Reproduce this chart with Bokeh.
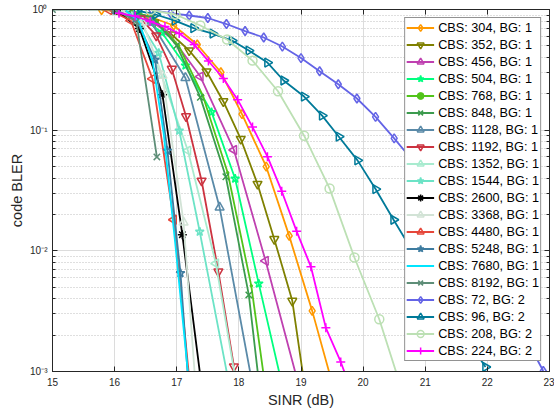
from bokeh.plotting import figure
from bokeh.models import Range1d, LinearAxis, LogAxis, FixedTicker, CustomJSTickFormatter
from bokeh.embed import file_html
from bokeh.resources import INLINE

# ---------------- data (SINR in dB, code BLER) ----------------
x_304 = [15.79, 16.18, 16.56, 16.95, 17.33, 17.71, 18.05, 18.44, 18.81, 19.18, 19.56]
y_304 = [0.99, 0.963, 0.875, 0.737, 0.513, 0.302, 0.136, 0.0498, 0.0133, 0.00318, 0.000626]

x_352 = [16.07, 16.36, 16.64, 16.92, 17.20, 17.48, 17.75, 18.03, 18.30, 18.57, 18.86, 19.14]
y_352 = [0.98, 0.909, 0.780, 0.620, 0.457, 0.306, 0.173, 0.0845, 0.0358, 0.0125, 0.00385, 0.000388]

x_456 = [16.34, 16.86, 17.38, 17.92, 18.43, 18.95]
y_456 = [0.963, 0.644, 0.278, 0.0685, 0.00826, 0.000818]

x_504 = [15.99, 16.37, 16.76, 17.14, 17.56, 17.94, 18.32, 18.70]
y_504 = [0.98, 0.909, 0.644, 0.343, 0.141, 0.0396, 0.00535, 0.000758]

x_768 = [16.26, 16.64, 17.03, 17.42, 17.82, 18.20, 18.59]
y_768 = [0.98, 0.842, 0.503, 0.193, 0.0444, 0.00513, 0.000181]

x_848 = [16.23, 16.61, 17.00, 17.38, 17.79, 18.16, 18.54]
y_848 = [0.972, 0.858, 0.503, 0.187, 0.0411, 0.00431, 0.0000875]

x_1128 = [16.03, 16.59, 17.14, 17.69, 18.25]
y_1128 = [0.98, 0.780, 0.271, 0.0229, 0.000638]

x_1192 = [16.16, 16.42, 16.67, 16.92, 17.15, 17.40, 17.67, 17.92]
y_1192 = [0.963, 0.842, 0.608, 0.322, 0.130, 0.0381, 0.00673, 0.00110]

x_1352 = [16.27, 16.75, 17.18, 17.63, 18.06]
y_1352 = [0.963, 0.289, 0.0676, 0.00785, 0.000388]

x_1544 = [16.10, 16.40, 16.71, 17.04, 17.37, 17.91]
y_1544 = [0.963, 0.795, 0.437, 0.099, 0.0144, 0.000517]

x_2600 = [16.03, 16.40, 16.77, 17.09, 17.41]
y_2600 = [0.98, 0.696, 0.197, 0.0136, 0.000689]

x_3368 = [16.10, 16.45, 16.77, 17.11, 17.44]
y_3368 = [0.98, 0.780, 0.283, 0.0172, 0.0000836]

x_4480 = [15.91, 16.26, 16.61, 16.95, 17.30]
y_4480 = [0.99, 0.810, 0.266, 0.0181, 0.000265]

x_5248 = [16.02, 16.34, 16.65, 16.85, 17.06, 17.27]
y_5248 = [0.98, 0.842, 0.383, 0.0676, 0.00653, 0.000203]

x_7680 = [16.18, 16.39, 16.61, 16.79, 16.98, 17.18]
y_7680 = [0.98, 0.795, 0.377, 0.0935, 0.0110, 0.000972]

x_8192 = [15.0, 16.0, 16.35, 16.68]
y_8192 = [1.0, 1.0, 0.795, 0.060]

x_72 = [16.6, 16.9, 17.2, 17.5, 17.8, 18.1, 18.4, 18.7, 19.0, 19.3, 19.6,
        19.9, 20.2, 20.5, 20.8, 21.1, 21.4, 21.7, 22.0, 22.3, 22.6, 22.9]
y_72 = [0.99, 0.932, 0.892, 0.850, 0.758, 0.663, 0.586, 0.493, 0.396, 0.308, 0.240,
        0.183, 0.129, 0.0855, 0.0558, 0.0353, 0.0215, 0.0126, 0.00709, 0.00385, 0.00197, 0.00101]

x_96 = [16.36, 16.66, 16.97, 17.27, 17.58, 17.89, 18.16, 18.46, 18.72, 19.05, 19.34,
        19.61, 19.91, 20.20, 20.49, 20.79, 21.08, 21.37, 21.67, 21.97]
y_96 = [0.98, 0.909, 0.810, 0.700, 0.632, 0.553, 0.457, 0.363, 0.258, 0.190, 0.132,
        0.0883, 0.0562, 0.0325, 0.0181, 0.0100, 0.00564, 0.00330, 0.00186, 0.00109]

x_208 = [16.58, 16.98, 17.38, 17.81, 18.22, 18.63, 19.05, 19.46, 19.86, 20.26, 20.67]
y_208 = [0.99, 0.909, 0.737, 0.564, 0.377, 0.210, 0.0900, 0.0329, 0.00880, 0.00271, 0.000591]

x_224 = [16.07, 16.33, 16.57, 16.81, 17.04, 17.28, 17.51, 17.75, 17.98, 18.22, 18.46,
         18.69, 18.93, 19.16, 19.40, 19.64, 19.87]
y_224 = [0.932, 0.883, 0.795, 0.723, 0.632, 0.513, 0.374, 0.268, 0.179, 0.106, 0.0603,
         0.0312, 0.0145, 0.00737, 0.00230, 0.00120, 0.000569]

labels = ["CBS: 304, BG: 1", "CBS: 352, BG: 1", "CBS: 456, BG: 1", "CBS: 504, BG: 1",
          "CBS: 768, BG: 1", "CBS: 848, BG: 1", "CBS: 1128, BG: 1", "CBS: 1192, BG: 1",
          "CBS: 1352, BG: 1", "CBS: 1544, BG: 1", "CBS: 2600, BG: 1", "CBS: 3368, BG: 1",
          "CBS: 4480, BG: 1", "CBS: 5248, BG: 1", "CBS: 7680, BG: 1", "CBS: 8192, BG: 1",
          "CBS: 72, BG: 2", "CBS: 96, BG: 2", "CBS: 208, BG: 2", "CBS: 224, BG: 2"]

x_ticks = [15, 16, 17, 18, 19, 20, 21, 22, 23]
y_ticks = [0.001, 0.01, 0.1, 1.0]
y_tick_labels = ["10\u207b\u00b3", "10\u207b\u00b2", "10\u207b\u00b9", "10\u2070"]

# ---------------- styles ----------------
HL = 1.5707963267948966
styles = [
    ("#FF9900", "diamond", 0.0),
    ("#7F8000", "inverted_triangle", 0.0),
    ("#BF40B0", "triangle", HL),
    ("#00FF7F", "star", 0.0),
    ("#52C41A", "dot", 0.0),
    ("#3C9B4E", "x", 0.0),
    ("#5A8AA8", "triangle", 0.0),
    ("#CC3340", "inverted_triangle", 0.0),
    ("#A8EBCF", "triangle", HL),
    ("#6CE3C6", "star", 0.0),
    ("#000000", "asterisk", 0.0),
    ("#D2E3D6", "triangle", 0.0),
    ("#E6473A", "triangle", HL),
    ("#3E7CA0", "star", 0.0),
    ("#00E5FF", None, 0.0),
    ("#5E8E78", "x", 0.0),
    ("#6464E6", "diamond", 0.0),
    ("#007A99", "triangle", -HL),
    ("#BCE0B4", "circle", 0.0),
    ("#FF00FF", "cross", 0.0),
]
xs = [x_304, x_352, x_456, x_504, x_768, x_848, x_1128, x_1192, x_1352, x_1544,
      x_2600, x_3368, x_4480, x_5248, x_7680, x_8192, x_72, x_96, x_208, x_224]
ys = [y_304, y_352, y_456, y_504, y_768, y_848, y_1128, y_1192, y_1352, y_1544,
      y_2600, y_3368, y_4480, y_5248, y_7680, y_8192, y_72, y_96, y_208, y_224]

AX = "#262626"
FONT = "Liberation Sans"

p = figure(width=554, height=414, x_range=Range1d(15, 23), y_range=Range1d(0.001, 1.0),
           y_axis_type="log", output_backend="svg", toolbar_location=None,
           min_border_left=52, min_border_right=5, min_border_top=9, min_border_bottom=43)
p.background_fill_color = "white"
p.border_fill_color = "white"
p.outline_line_color = AX
p.outline_line_width = 1

minor = [k * t for t in y_ticks[:-1] for k in range(2, 10)]

def style_axis(ax, show, minor_on):
    ax.axis_line_color = AX
    ax.axis_line_width = 1
    ax.major_tick_in = 5
    ax.major_tick_out = 0
    ax.major_tick_line_color = AX
    ax.major_label_text_color = AX
    ax.major_label_text_font = FONT
    ax.major_label_text_font_size = "10px"
    ax.axis_label_text_font = FONT
    ax.axis_label_text_font_style = "normal"
    ax.axis_label_text_color = AX
    ax.axis_label_text_font_size = "14.5px"
    if minor_on:
        ax.minor_tick_in = 3
        ax.minor_tick_out = 0
        ax.minor_tick_line_color = AX
    else:
        ax.minor_tick_line_color = None
    if not show:
        ax.formatter = CustomJSTickFormatter(code="return ''")
        ax.major_label_standoff = 0

xa = p.xaxis[0]
xa.ticker = FixedTicker(ticks=x_ticks)
xa.axis_label = "SINR (dB)"
xa.major_label_standoff = 6
xa.axis_label_standoff = 3
style_axis(xa, True, False)

ya = p.yaxis[0]
ya.ticker = FixedTicker(ticks=y_ticks, minor_ticks=minor)
ya.major_label_overrides = dict(zip(y_ticks, y_tick_labels))
ya.axis_label = "code BLER"
ya.major_label_standoff = 5
ya.axis_label_standoff = 2
style_axis(ya, True, True)

top = LinearAxis(ticker=FixedTicker(ticks=x_ticks))
style_axis(top, False, False)
p.add_layout(top, "above")
right = LogAxis(ticker=FixedTicker(ticks=y_ticks, minor_ticks=minor))
style_axis(right, False, True)
p.add_layout(right, "right")

p.xgrid.grid_line_color = "#DCDCDC"
p.xgrid.grid_line_width = 1
p.ygrid.grid_line_color = "#DCDCDC"
p.ygrid.minor_grid_line_color = "#BEBEBE"
p.ygrid.minor_grid_line_dash = "1 2"
p.ygrid.minor_grid_line_width = 1

for lab, x, y, (c, mk, ang) in zip(labels, xs, ys, styles):
    p.line(x, y, line_color=c, line_width=1.8, legend_label=lab)
    if mk == "dot":
        p.scatter(x, y, marker="circle", size=2.5, line_color=c, fill_color=c, legend_label=lab)
    elif mk is not None:
        p.scatter(x, y, marker=mk, size=9, angle=ang, line_color=c, line_width=1.5,
                  fill_color=None, legend_label=lab)

lg = p.legend[0]
lg.location = "top_right"
lg.margin = 8
lg.padding = 1
lg.spacing = 0
lg.glyph_width = 28
lg.glyph_height = 17
lg.label_height = 17
lg.label_standoff = 4
lg.label_text_font = FONT
lg.label_text_font_size = "12.7px"
lg.label_text_color = "#000000"
lg.border_line_color = AX
lg.border_line_width = 1
lg.background_fill_color = "white"
lg.background_fill_alpha = 1.0

open("out.html", "w").write(file_html(p, INLINE))
